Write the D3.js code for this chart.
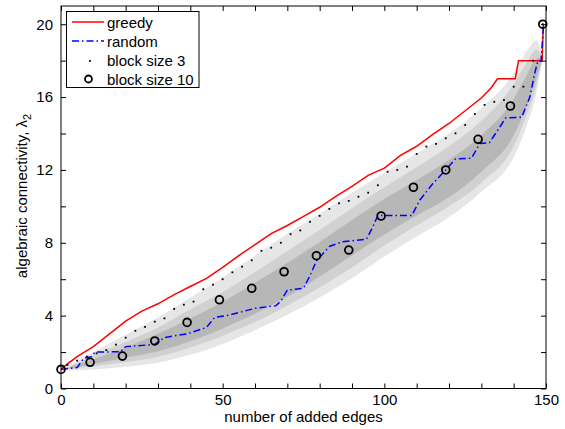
<!DOCTYPE html>
<html lang="en">
<head>
<meta charset="UTF-8">
<title>Algebraic connectivity</title>
<script src="https://d3js.org/d3.v7.min.js"></script>
<style>
  body { margin: 0; background: #fff; }
  text { font-family: "Liberation Sans", Arial, Helvetica, sans-serif; }
</style>
</head>
<body>
<div id="chart"></div>
<script>
// greedy (red)
var greedyEdges  = [0, 2, 5, 10, 15, 20, 25, 30, 35, 40, 45, 50, 55, 60, 65, 70, 75, 80, 85, 90, 95, 100, 105, 110, 115, 120, 125, 130, 133, 135, 140.5, 141.5, 148.8, 149.2];
var greedyValues = [1.05, 1.35, 1.75, 2.3, 3.0, 3.7, 4.25, 4.65, 5.15, 5.6, 6.05, 6.65, 7.3, 7.9, 8.5, 8.95, 9.45, 9.95, 10.55, 11.1, 11.7, 12.1, 12.8, 13.3, 13.95, 14.55, 15.25, 15.95, 16.5, 17.0, 17.0, 18.0, 18.0, 20.0];

// random (blue dash-dot)
var randomEdges  = [0, 5, 7, 9.5, 10.5, 18.5, 20, 29, 32, 39, 45, 47.5, 52, 60, 66.5, 68, 70, 75, 77, 79, 83, 87, 94.5, 96.5, 98, 108.5, 111, 115, 119, 122, 127, 129.5, 132.5, 135.5, 137.5, 142.5, 145, 146.5, 147.5, 148.5, 149.2];
var randomValues = [1.05, 1.15, 1.65, 1.75, 2.0, 2.02, 2.3, 2.42, 2.8, 3.0, 3.35, 3.9, 4.03, 4.4, 4.55, 4.8, 5.4, 5.5, 6.2, 7.0, 7.8, 8.05, 8.2, 8.9, 9.5, 9.5, 10.35, 11.25, 12.0, 12.6, 12.65, 13.45, 13.5, 14.3, 14.85, 14.9, 16.0, 17.3, 18.0, 18.0, 20.0];

// block size 3 (dots)
var block3Edges  = d3.range(2, 150, 3);
var block3Values = [1.29, 1.53, 1.75, 1.93, 2.11, 2.41, 2.79, 3.17, 3.38, 3.67, 3.85, 4.37, 4.6, 4.77, 5.45, 5.7, 6.0, 6.38, 6.69, 7.04, 7.56, 7.73, 8.0, 8.47, 8.68, 9.15, 9.48, 9.86, 10.17, 10.3, 10.53, 10.75, 11.16, 11.9, 12.0, 12.18, 12.88, 13.28, 13.43, 13.74, 14.01, 14.47, 15.07, 15.57, 15.74, 15.84, 16.57, 16.57, 18.0, 20.0];

// block size 10 (circles)
var block10Edges  = [0, 9, 19, 29, 39, 49, 59, 69, 79, 89, 99, 109, 119, 129, 139, 149];
var block10Values = [1.05, 1.44, 1.78, 2.61, 3.63, 4.87, 5.5, 6.41, 7.29, 7.6, 9.47, 11.05, 12.0, 13.68, 15.51, 20.0];

// shaded percentile bands
var bandEdges = [0, 10, 20, 30, 40, 50, 60, 70, 80, 90, 100, 110, 120, 130, 140, 144, 147, 149];
var lightHigh = [1.0, 2.0, 2.95, 3.9, 5.0, 6.1, 7.3, 8.5, 9.6, 10.75, 11.85, 12.9, 14.0, 15.4, 17.3, 18.5, 19.1, 18.2];
var midHigh   = [1.0, 1.8, 2.55, 3.35, 4.35, 5.3, 6.4, 7.55, 8.7, 9.9, 11.05, 12.15, 13.3, 14.7, 16.7, 17.9, 18.6, 18.2];
var darkHigh  = [1.0, 1.6, 2.25, 3.0, 3.85, 4.75, 5.8, 6.9, 8.05, 9.25, 10.4, 11.45, 12.55, 13.9, 15.9, 17.2, 18.1, 18.2];
var darkLow   = [1.0, 1.35, 1.7, 2.05, 2.6, 3.3, 4.1, 5.05, 6.15, 7.3, 8.45, 9.5, 10.5, 11.9, 13.9, 15.5, 17.0, 18.2];
var midLow    = [1.0, 1.22, 1.45, 1.75, 2.25, 2.9, 3.65, 4.55, 5.55, 6.65, 7.85, 8.95, 10.0, 11.3, 13.3, 15.0, 16.6, 18.2];
var lightLow  = [1.0, 1.05, 1.2, 1.42, 1.85, 2.45, 3.2, 4.05, 5.0, 6.05, 7.25, 8.35, 9.4, 10.8, 12.7, 14.4, 16.2, 18.2];

var xTicks = d3.range(0, 151, 10);
var yTicks = d3.range(0, 21, 2);

var W = 565, H = 429;
var svg = d3.select("#chart").append("svg")
    .attr("width", W)
    .attr("height", H);

var x = d3.scaleLinear().domain([0, 150]).range([61, 546]);
var y = d3.scaleLinear().domain([0, 21]).range([388.5, 6]);

function zipPts(xs, ys) {
    return xs.map(function(d, i) { return [d, ys[i]]; });
}

// bands
var area = d3.area()
    .x(function(d) { return x(d[0]); })
    .y0(function(d) { return y(d[1]); })
    .y1(function(d) { return y(d[2]); })
    .curve(d3.curveMonotoneX);

var bands = [
    {lo: lightLow, hi: lightHigh, fill: "#e6e6e6"},
    {lo: midLow,   hi: midHigh,   fill: "#d1d1d1"},
    {lo: darkLow,  hi: darkHigh,  fill: "#b7b7b7"}
];
bands.forEach(function(b) {
    var pts = bandEdges.map(function(e, i) { return [e, b.lo[i], b.hi[i]]; });
    svg.append("path")
       .datum(pts)
       .attr("d", area)
       .attr("fill", b.fill);
});

var line = d3.line()
    .x(function(d) { return x(d[0]); })
    .y(function(d) { return y(d[1]); });

// greedy
svg.append("path")
   .datum(zipPts(greedyEdges, greedyValues))
   .attr("d", line)
   .attr("fill", "none")
   .attr("stroke", "#ff0000")
   .attr("stroke-width", 1.5);

// random
svg.append("path")
   .datum(zipPts(randomEdges, randomValues))
   .attr("d", line)
   .attr("fill", "none")
   .attr("stroke", "#0000ff")
   .attr("stroke-width", 1.5)
   .attr("stroke-dasharray", "7,3,1.5,3");

// block size 3
svg.selectAll(".dot3")
   .data(zipPts(block3Edges, block3Values))
   .enter().append("rect")
   .attr("class", "dot3")
   .attr("x", function(d) { return x(d[0]) - 0.9; })
   .attr("y", function(d) { return y(d[1]) - 0.9; })
   .attr("width", 1.8)
   .attr("height", 1.8)
   .attr("fill", "#000");

// block size 10
svg.selectAll(".dot10")
   .data(zipPts(block10Edges, block10Values))
   .enter().append("circle")
   .attr("class", "dot10")
   .attr("cx", function(d) { return x(d[0]); })
   .attr("cy", function(d) { return y(d[1]); })
   .attr("r", 3.9)
   .attr("fill", "none")
   .attr("stroke", "#000")
   .attr("stroke-width", 1.8);

// axes (ticks inward on all four sides)
var fontSize = "15px";
var axB = svg.append("g")
    .attr("transform", "translate(0," + y(0) + ")")
    .call(d3.axisBottom(x).tickValues(xTicks).tickSizeInner(-5).tickSizeOuter(0).tickPadding(6)
        .tickFormat(function(d) { return d % 50 === 0 ? d : ""; }));
var axT = svg.append("g")
    .attr("transform", "translate(0," + y(21) + ")")
    .call(d3.axisTop(x).tickValues(xTicks).tickSizeInner(-5).tickSizeOuter(0).tickFormat(""));
var axL = svg.append("g")
    .attr("transform", "translate(" + x(0) + ",0)")
    .call(d3.axisLeft(y).tickValues(yTicks).tickSizeInner(-5).tickSizeOuter(0).tickPadding(8)
        .tickFormat(function(d) { return d % 4 === 0 ? d : ""; }));
var axR = svg.append("g")
    .attr("transform", "translate(" + x(150) + ",0)")
    .call(d3.axisRight(y).tickValues(yTicks).tickSizeInner(-5).tickSizeOuter(0).tickFormat(""));

[axB, axT, axL, axR].forEach(function(g) {
    g.select(".domain").remove();
    g.selectAll(".tick line").attr("stroke", "#000");
    g.selectAll("text").attr("font-size", fontSize).attr("fill", "#000")
     .style("font-family", "'Liberation Sans', Arial, Helvetica, sans-serif");
});

// frame
svg.append("rect")
   .attr("x", x(0))
   .attr("y", y(21))
   .attr("width", x(150) - x(0))
   .attr("height", y(0) - y(21))
   .attr("fill", "none")
   .attr("stroke", "#000")
   .attr("stroke-width", 1);

// axis titles
svg.append("text")
   .attr("x", (x(0) + x(150)) / 2)
   .attr("y", 421.5)
   .attr("text-anchor", "middle")
   .attr("font-size", fontSize)
   .text("number of added edges");

var yl = svg.append("text")
   .attr("transform", "translate(27,196) rotate(-90)")
   .attr("text-anchor", "middle")
   .attr("font-size", fontSize);
yl.append("tspan").text("algebraic connectivity, \u03bb");
yl.append("tspan").attr("font-size", "11px").attr("dy", 4).text("2");

// legend
var lg = svg.append("g");
lg.append("rect")
  .attr("x", 66.5).attr("y", 11.5)
  .attr("width", 132.5).attr("height", 76)
  .attr("fill", "#fff").attr("stroke", "#000").attr("stroke-width", 1);

var legendItems = ["greedy", "random", "block size 3", "block size 10"];
var legendY = [22, 41, 60, 79];
legendItems.forEach(function(name, i) {
    var ly = legendY[i];
    if (i === 0) {
        lg.append("line").attr("x1", 72).attr("x2", 104).attr("y1", ly).attr("y2", ly)
          .attr("stroke", "#ff0000").attr("stroke-width", 1.5);
    } else if (i === 1) {
        lg.append("line").attr("x1", 72).attr("x2", 104).attr("y1", ly).attr("y2", ly)
          .attr("stroke", "#0000ff").attr("stroke-width", 1.5).attr("stroke-dasharray", "7,3,1.5,3");
    } else if (i === 2) {
        lg.append("rect").attr("x", 89).attr("y", ly).attr("width", 1.8).attr("height", 1.8).attr("fill", "#000");
    } else {
        lg.append("circle").attr("cx", 88.5).attr("cy", ly).attr("r", 3.5)
          .attr("fill", "none").attr("stroke", "#000").attr("stroke-width", 1.8);
    }
    lg.append("text")
      .attr("x", 107)
      .attr("y", ly + 5.5)
      .attr("font-size", fontSize)
      .text(name);
});
</script>
</body>
</html>
